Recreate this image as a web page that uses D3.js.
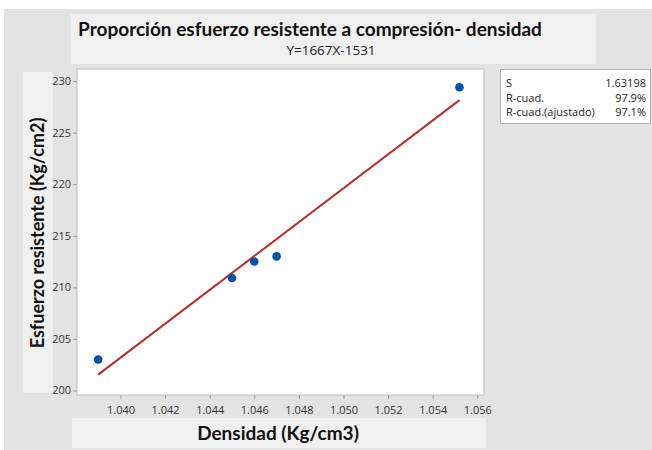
<!DOCTYPE html>
<html>
<head>
<meta charset="utf-8">
<script src="https://cdn.jsdelivr.net/npm/d3@7"></script>
<style>
  html, body { margin: 0; padding: 0; background: #fff; }
  svg { display: block; }
</style>
</head>
<body>
<svg id="chart"></svg>
<script>
// data
const densidad = [1.039, 1.045, 1.046, 1.047, 1.0552];
const esfuerzo = [203.0, 210.9, 212.5, 213.0, 229.4];
const xTicks = [1.040, 1.042, 1.044, 1.046, 1.048, 1.050, 1.052, 1.054, 1.056];
const yTicks = [200, 205, 210, 215, 220, 225, 230];
const statLabels = ["S", "R-cuad.", "R-cuad.(ajustado)"];
const statValues = ["1.63198", "97.9%", "97.1%"];
const title = "Proporción esfuerzo resistente a compresión- densidad";
const subtitle = "Y=1667X-1531";

const w = 652, h = 450;
const plot = { left: 77, right: 484, top: 69, bottom: 395 };

const svg = d3.select("#chart").attr("width", w).attr("height", h);

// backgrounds
svg.append("rect").attr("x", 4).attr("y", 9).attr("width", w - 4).attr("height", h - 9).attr("fill", "#e3e3e3");
svg.append("rect").attr("x", 71).attr("y", 14).attr("width", 525).attr("height", 50).attr("fill", "#f0f0f0");
svg.append("rect").attr("x", 23).attr("y", 72).attr("width", 30).attr("height", 321).attr("fill", "#f0f0f0");
svg.append("rect").attr("x", 72).attr("y", 418).attr("width", 414).attr("height", 30).attr("fill", "#f0f0f0");
svg.append("rect").attr("x", plot.left).attr("y", plot.top)
   .attr("width", plot.right - plot.left).attr("height", plot.bottom - plot.top)
   .attr("fill", "#fff").attr("stroke", "#bcbcbc");

const xScale = d3.scaleLinear().domain([1.03805, 1.0563]).range([plot.left, plot.right]);
const yScale = d3.scaleLinear().domain([199.56, 231.17]).range([plot.bottom, plot.top]);

// least squares fit of the points
const mx = d3.mean(densidad), my = d3.mean(esfuerzo);
const sxy = d3.sum(densidad, (x, i) => (x - mx) * (esfuerzo[i] - my));
const sxx = d3.sum(densidad, x => (x - mx) * (x - mx));
const slope = sxy / sxx, icpt = my - slope * mx;
const xr = d3.extent(densidad);

const line = d3.line().x(d => xScale(d)).y(d => yScale(icpt + slope * d));
svg.append("path").datum(xr)
   .attr("fill", "none").attr("stroke", "#b2302e").attr("stroke-width", 2)
   .attr("d", line);

svg.append("g").selectAll("circle")
   .data(densidad)
   .join("circle")
   .attr("cx", d => xScale(d))
   .attr("cy", (d, i) => yScale(esfuerzo[i]))
   .attr("r", 4.3)
   .attr("fill", "#0054a6");

// axes
const tickFont = "'Open Sans', sans-serif";
const xAxis = d3.axisBottom(xScale).tickValues(xTicks).tickFormat(d3.format(".3f")).tickSize(4).tickPadding(5);
const yAxis = d3.axisLeft(yScale).tickValues(yTicks).tickSize(4).tickPadding(2);

const gx = svg.append("g").attr("transform", `translate(0, ${plot.bottom})`).call(xAxis);
const gy = svg.append("g").attr("transform", `translate(${plot.left}, 0)`).call(yAxis);
[gx, gy].forEach(g => {
  g.select(".domain").remove();
  g.selectAll(".tick line").attr("stroke", "#9a9a9a");
  g.selectAll(".tick text").attr("fill", "#333").style("font-family", tickFont).style("font-size", "11px");
});
gx.selectAll(".tick text").attr("dy", "0.9em");

// titles
svg.append("text").attr("x", 310).attr("y", 36).attr("text-anchor", "middle")
   .style("font-family", "Lato, sans-serif").style("font-weight", "bold").style("font-size", "19px")
   .attr("fill", "#111").text(title);
svg.append("text").attr("x", 331).attr("y", 55).attr("text-anchor", "middle")
   .style("font-family", tickFont).style("font-size", "13.5px")
   .attr("fill", "#222").text(subtitle);

svg.append("text").attr("x", 278).attr("y", 440).attr("text-anchor", "middle")
   .style("font-family", "Lato, sans-serif").style("font-weight", "bold").style("font-size", "19px")
   .attr("fill", "#111").text("Densidad (Kg/cm3)");
svg.append("text").attr("transform", "translate(44, 233) rotate(-90)").attr("text-anchor", "middle")
   .style("font-family", "Lato, sans-serif").style("font-weight", "bold").style("font-size", "18px")
   .attr("fill", "#111").text("Esfuerzo resistente (Kg/cm2)");

// stats box
svg.append("rect").attr("x", 500.5).attr("y", 69.5).attr("width", 150).attr("height", 54)
   .attr("fill", "#fff").attr("stroke", "#b0b0b0");
const stats = svg.append("g").style("font-family", tickFont).style("font-size", "11px").attr("fill", "#222");
stats.selectAll("text.lab").data(statLabels).join("text").attr("class", "lab")
   .attr("x", 506).attr("y", (d, i) => 87 + i * 14.5).text(d => d);
stats.selectAll("text.val").data(statValues).join("text").attr("class", "val")
   .attr("x", 646).attr("y", (d, i) => 87 + i * 14.5).attr("text-anchor", "end").text(d => d);
</script>
</body>
</html>
